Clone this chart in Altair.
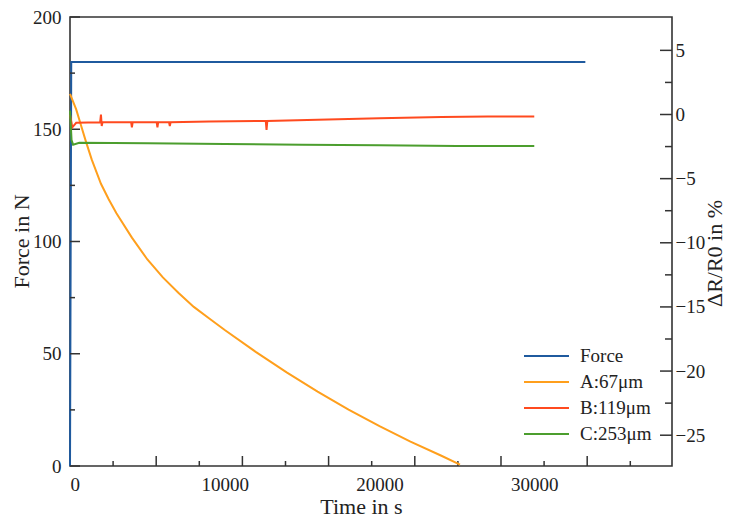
import altair as alt
import pandas as pd

FONT = "Liberation Serif"

series = ["Force", "A:67μm", "B:119μm", "C:253μm"]
colors = ["#1f5a9e", "#ff9f1c", "#ff4a1f", "#4c9e2e"]

# Force (left axis, N)
force_t = [0, 80, 33300]
force_n = [0, 180, 180]

# Resistance change (right axis, %)
a_t = [0, 200, 400, 700, 1000, 1400, 2000, 2500, 3000, 4000, 5000, 6000, 7000, 8000,
       9000, 10000, 12000, 14000, 16000, 18000, 20000, 22000, 24000, 25200]
a_v = [1.6, 1.0, 0.4, -0.8, -2.0, -3.5, -5.4, -6.6, -7.7, -9.6, -11.3, -12.7, -13.9, -15.0,
       -15.9, -16.8, -18.5, -20.1, -21.6, -23.0, -24.3, -25.5, -26.6, -27.3]

b_t = [0, 60, 150, 400, 1950, 2000, 2050, 2100, 3950, 4000, 4050, 5600, 5650, 5700,
       6400, 6450, 6500, 9000, 12650, 12700, 12750, 16000, 20000, 24000, 27000, 30000]
b_v = [0.0, -0.4, -1.0, -0.65, -0.6, 0.0, -0.9, -0.6, -0.6, -1.0, -0.6, -0.6, -1.0, -0.6,
       -0.6, -0.9, -0.6, -0.55, -0.5, -1.2, -0.5, -0.4, -0.3, -0.2, -0.15, -0.15]

c_t = [0, 100, 200, 600, 5000, 10000, 15000, 20000, 25000, 30000]
c_v = [0.3, -2.0, -2.35, -2.2, -2.25, -2.3, -2.35, -2.4, -2.45, -2.45]

# axis ticks / labels
left_major = [0, 50, 100, 150, 200]
left_minor = [25, 75, 125, 175]
right_labels = [5, 0, -5, -10, -15, -20, -25]
right_minor = [2.5, -2.5, -7.5, -12.5, -17.5, -22.5]
x_labels = [0, 10000, 20000, 30000]
x_major = [5570, 11140, 16710, 22280, 27850, 33420]
x_minor = [2785, 8355, 13925, 19495, 25065, 30635, 36205]

W, H = 602, 449

xs = alt.Scale(domain=[0, 38900], nice=False, zero=False)
ys_left = alt.Scale(domain=[0, 200], nice=False, zero=False)
ys_right = alt.Scale(domain=[-27.4, 7.6], nice=False, zero=False)
color_scale = alt.Scale(domain=series, range=colors)

x_axis = alt.Axis(values=x_labels, ticks=False, domain=False, grid=False,
                  labelPadding=9, title="Time in s", format="d",
                  titleX=291, titleY=47, titleAlign="center", titleBaseline="alphabetic")
left_axis = alt.Axis(values=left_major, ticks=False, domain=False, grid=False,
                     labelPadding=9, title="Force in N",
                     titleX=-49, titleY=224, titleAngle=270, titleAlign="center",
                     titleBaseline="middle")
right_axis = alt.Axis(values=right_labels, ticks=False, domain=False, grid=False,
                      orient="right", labelPadding=3, title="ΔR/R0 in %",
                      titleX=42, titleY=236, titleAngle=270, titleAlign="center",
                      titleBaseline="middle")

df_force = pd.DataFrame({"t": force_t, "v": force_n, "series": series[0],
                         "ord": list(range(len(force_t)))})
rows = []
for name, ts, vs in [(series[1], a_t, a_v), (series[2], b_t, b_v), (series[3], c_t, c_v)]:
    for i, (t, v) in enumerate(zip(ts, vs)):
        rows.append({"t": t, "v": v, "series": name, "ord": i})
df_res = pd.DataFrame(rows)

X = alt.X("t:Q", scale=xs, axis=x_axis)
TICK = dict(color="#333", strokeWidth=1.5)

force_line = alt.Chart(df_force).mark_line(strokeWidth=2).encode(
    x=X,
    y=alt.Y("v:Q", scale=ys_left, axis=left_axis),
    color=alt.Color("series:N", scale=color_scale, legend=None),
    order="ord:Q",
)
lmaj = alt.Chart(pd.DataFrame({"v": left_major})).mark_rule(**TICK).encode(
    y=alt.Y("v:Q", scale=ys_left, axis=left_axis), x=alt.value(0), x2=alt.value(10))
lmin = alt.Chart(pd.DataFrame({"v": left_minor})).mark_rule(**TICK).encode(
    y=alt.Y("v:Q", scale=ys_left, axis=left_axis), x=alt.value(0), x2=alt.value(5))
xmaj = alt.Chart(pd.DataFrame({"t": x_major})).mark_rule(**TICK).encode(
    x=X, y=alt.value(H), y2=alt.value(H - 10))
xmin = alt.Chart(pd.DataFrame({"t": x_minor})).mark_rule(**TICK).encode(
    x=X, y=alt.value(H), y2=alt.value(H - 5))

g_left = alt.layer(force_line, lmaj, lmin, xmaj, xmin)

res_lines = alt.Chart(df_res).mark_line(strokeWidth=2).encode(
    x=X,
    y=alt.Y("v:Q", scale=ys_right, axis=right_axis),
    color=alt.Color("series:N", scale=color_scale, legend=None),
    order="ord:Q",
)
rmaj = alt.Chart(pd.DataFrame({"v": right_labels})).mark_rule(**TICK).encode(
    y=alt.Y("v:Q", scale=ys_right, axis=right_axis), x=alt.value(W), x2=alt.value(W - 12))
rmin = alt.Chart(pd.DataFrame({"v": right_minor})).mark_rule(**TICK).encode(
    y=alt.Y("v:Q", scale=ys_right, axis=right_axis), x=alt.value(W), x2=alt.value(W - 7))

g_right = alt.layer(res_lines, rmaj, rmin)

df_leg = pd.DataFrame({"series": series, "idx": list(range(len(series)))})
leg_y = alt.Y("idx:Q", scale=alt.Scale(domain=[0, 3], range=[339, 417]), axis=None)
leg_rules = alt.Chart(df_leg).mark_rule(strokeWidth=2).encode(
    x=alt.value(454), x2=alt.value(499), y=leg_y,
    color=alt.Color("series:N", scale=color_scale, legend=None))
leg_text = alt.Chart(df_leg).mark_text(align="left", baseline="middle", font=FONT,
                                       fontSize=19, color="#222").encode(
    x=alt.value(510), y=leg_y, text="series:N")
g_leg = alt.layer(leg_rules, leg_text)

chart = alt.layer(g_left, g_right, g_leg).resolve_scale(y="independent").properties(
    width=W, height=H,
    autosize=alt.AutoSizeParams(type="none"),
    padding={"left": 62, "top": 9, "right": 53, "bottom": 52},
    background="white",
).configure_view(stroke="#333", strokeWidth=1.6).configure_axis(
    labelFont=FONT, labelFontSize=19, labelColor="#222",
    titleFont=FONT, titleFontSize=22, titleFontWeight="normal", titleColor="#222",
)

chart.save("out.html", embed_options={"renderer": "svg", "actions": False})
